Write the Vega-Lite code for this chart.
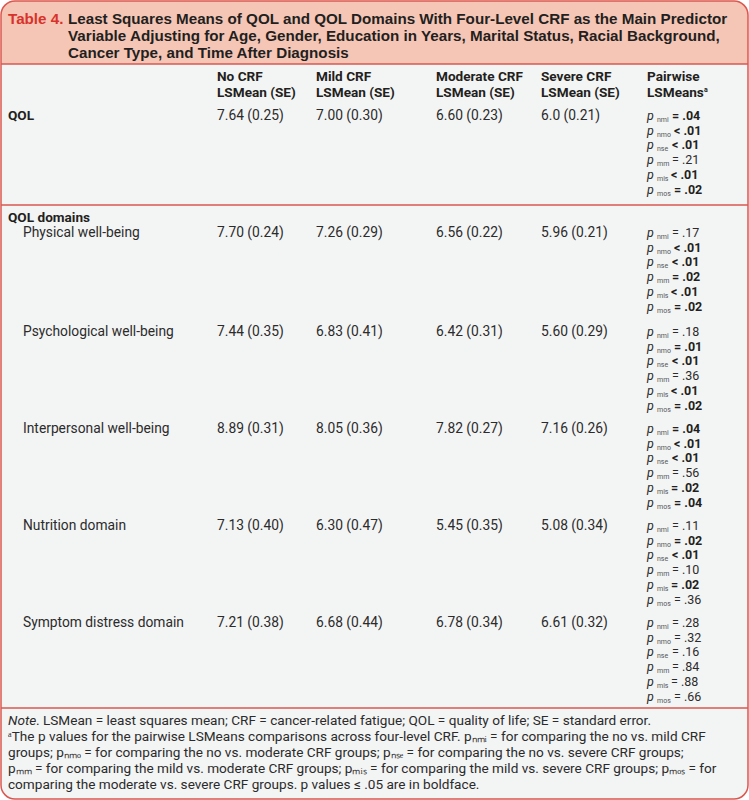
{
  "$schema": "https://vega.github.io/schema/vega-lite/v6.json",
  "width": 749,
  "height": 800,
  "padding": 0,
  "autosize": {"type": "none"},
  "background": "#ffffff",
  "config": {"view": {"stroke": null}},
  "datasets": {
    "frame": [
      {"part": "table", "col": 0, "col2": 9, "slot": -1, "slot2": 47}
    ],
    "band": [
      {"part": "title band", "col": 0, "col2": 9, "slot": -1, "slot2": 2.5}
    ],
    "sections": [
      {"boundary": "header", "col": 0, "col2": 9, "slot": 2.5},
      {"boundary": "QOL", "col": 0, "col2": 9, "slot": 10.5},
      {"boundary": "note", "col": 0, "col2": 9, "slot": 41.5}
    ],
    "titles": [
      {"slot": 0, "col": 3, "text": "Least Squares Means of QOL and QOL Domains With Four-Level CRF as the Main Predictor"},
      {"slot": 1, "col": 3, "text": "Variable Adjusting for Age, Gender, Education in Years, Marital Status, Racial Background,"},
      {"slot": 2, "col": 3, "text": "Cancer Type, and Time After Diagnosis"}
    ],
    "colheads": [
      {"slot": 3, "col": 4, "text": "No CRF"},
      {"slot": 4, "col": 4, "text": "LSMean (SE)"},
      {"slot": 3, "col": 5, "text": "Mild CRF"},
      {"slot": 4, "col": 5, "text": "LSMean (SE)"},
      {"slot": 3, "col": 6, "text": "Moderate CRF"},
      {"slot": 4, "col": 6, "text": "LSMean (SE)"},
      {"slot": 3, "col": 7, "text": "Severe CRF"},
      {"slot": 4, "col": 7, "text": "LSMean (SE)"},
      {"slot": 3, "col": 8, "text": "Pairwise"},
      {"slot": 4, "col": 8, "text": "LSMeans"}
    ],
    "rowheads": [
      {"slot": 5, "col": 1, "text": "QOL"},
      {"slot": 11, "col": 1, "text": "QOL domains"}
    ],
    "rowlabels": [
      {"slot": 12, "col": 2, "text": "Physical well-being"},
      {"slot": 18, "col": 2, "text": "Psychological well-being"},
      {"slot": 24, "col": 2, "text": "Interpersonal well-being"},
      {"slot": 30, "col": 2, "text": "Nutrition domain"},
      {"slot": 36, "col": 2, "text": "Symptom distress domain"}
    ],
    "means": [
      {"item": "QOL", "group": "No CRF", "slot": 5, "col": 4, "lsmean": 7.64, "se": 0.25, "label": "7.64 (0.25)"},
      {"item": "QOL", "group": "Mild CRF", "slot": 5, "col": 5, "lsmean": 7.0, "se": 0.3, "label": "7.00 (0.30)"},
      {"item": "QOL", "group": "Moderate CRF", "slot": 5, "col": 6, "lsmean": 6.6, "se": 0.23, "label": "6.60 (0.23)"},
      {"item": "QOL", "group": "Severe CRF", "slot": 5, "col": 7, "lsmean": 6.0, "se": 0.21, "label": "6.0 (0.21)"},
      {"item": "Physical well-being", "group": "No CRF", "slot": 12, "col": 4, "lsmean": 7.7, "se": 0.24, "label": "7.70 (0.24)"},
      {"item": "Physical well-being", "group": "Mild CRF", "slot": 12, "col": 5, "lsmean": 7.26, "se": 0.29, "label": "7.26 (0.29)"},
      {"item": "Physical well-being", "group": "Moderate CRF", "slot": 12, "col": 6, "lsmean": 6.56, "se": 0.22, "label": "6.56 (0.22)"},
      {"item": "Physical well-being", "group": "Severe CRF", "slot": 12, "col": 7, "lsmean": 5.96, "se": 0.21, "label": "5.96 (0.21)"},
      {"item": "Psychological well-being", "group": "No CRF", "slot": 18, "col": 4, "lsmean": 7.44, "se": 0.35, "label": "7.44 (0.35)"},
      {"item": "Psychological well-being", "group": "Mild CRF", "slot": 18, "col": 5, "lsmean": 6.83, "se": 0.41, "label": "6.83 (0.41)"},
      {"item": "Psychological well-being", "group": "Moderate CRF", "slot": 18, "col": 6, "lsmean": 6.42, "se": 0.31, "label": "6.42 (0.31)"},
      {"item": "Psychological well-being", "group": "Severe CRF", "slot": 18, "col": 7, "lsmean": 5.6, "se": 0.29, "label": "5.60 (0.29)"},
      {"item": "Interpersonal well-being", "group": "No CRF", "slot": 24, "col": 4, "lsmean": 8.89, "se": 0.31, "label": "8.89 (0.31)"},
      {"item": "Interpersonal well-being", "group": "Mild CRF", "slot": 24, "col": 5, "lsmean": 8.05, "se": 0.36, "label": "8.05 (0.36)"},
      {"item": "Interpersonal well-being", "group": "Moderate CRF", "slot": 24, "col": 6, "lsmean": 7.82, "se": 0.27, "label": "7.82 (0.27)"},
      {"item": "Interpersonal well-being", "group": "Severe CRF", "slot": 24, "col": 7, "lsmean": 7.16, "se": 0.26, "label": "7.16 (0.26)"},
      {"item": "Nutrition domain", "group": "No CRF", "slot": 30, "col": 4, "lsmean": 7.13, "se": 0.4, "label": "7.13 (0.40)"},
      {"item": "Nutrition domain", "group": "Mild CRF", "slot": 30, "col": 5, "lsmean": 6.3, "se": 0.47, "label": "6.30 (0.47)"},
      {"item": "Nutrition domain", "group": "Moderate CRF", "slot": 30, "col": 6, "lsmean": 5.45, "se": 0.35, "label": "5.45 (0.35)"},
      {"item": "Nutrition domain", "group": "Severe CRF", "slot": 30, "col": 7, "lsmean": 5.08, "se": 0.34, "label": "5.08 (0.34)"},
      {"item": "Symptom distress domain", "group": "No CRF", "slot": 36, "col": 4, "lsmean": 7.21, "se": 0.38, "label": "7.21 (0.38)"},
      {"item": "Symptom distress domain", "group": "Mild CRF", "slot": 36, "col": 5, "lsmean": 6.68, "se": 0.44, "label": "6.68 (0.44)"},
      {"item": "Symptom distress domain", "group": "Moderate CRF", "slot": 36, "col": 6, "lsmean": 6.78, "se": 0.34, "label": "6.78 (0.34)"},
      {"item": "Symptom distress domain", "group": "Severe CRF", "slot": 36, "col": 7, "lsmean": 6.61, "se": 0.32, "label": "6.61 (0.32)"}
    ],
    "pvals": [
      {"item": "QOL", "slot": 5, "col": 8, "cmp": "nmi", "val": "= .04", "sig": true},
      {"item": "QOL", "slot": 6, "col": 8, "cmp": "nmo", "val": "< .01", "sig": true},
      {"item": "QOL", "slot": 7, "col": 8, "cmp": "nse", "val": "< .01", "sig": true},
      {"item": "QOL", "slot": 8, "col": 8, "cmp": "mm", "val": "= .21", "sig": false},
      {"item": "QOL", "slot": 9, "col": 8, "cmp": "mis", "val": "< .01", "sig": true},
      {"item": "QOL", "slot": 10, "col": 8, "cmp": "mos", "val": "= .02", "sig": true},
      {"item": "Physical well-being", "slot": 12, "col": 8, "cmp": "nmi", "val": "= .17", "sig": false},
      {"item": "Physical well-being", "slot": 13, "col": 8, "cmp": "nmo", "val": "< .01", "sig": true},
      {"item": "Physical well-being", "slot": 14, "col": 8, "cmp": "nse", "val": "< .01", "sig": true},
      {"item": "Physical well-being", "slot": 15, "col": 8, "cmp": "mm", "val": "= .02", "sig": true},
      {"item": "Physical well-being", "slot": 16, "col": 8, "cmp": "mis", "val": "< .01", "sig": true},
      {"item": "Physical well-being", "slot": 17, "col": 8, "cmp": "mos", "val": "= .02", "sig": true},
      {"item": "Psychological well-being", "slot": 18, "col": 8, "cmp": "nmi", "val": "= .18", "sig": false},
      {"item": "Psychological well-being", "slot": 19, "col": 8, "cmp": "nmo", "val": "= .01", "sig": true},
      {"item": "Psychological well-being", "slot": 20, "col": 8, "cmp": "nse", "val": "< .01", "sig": true},
      {"item": "Psychological well-being", "slot": 21, "col": 8, "cmp": "mm", "val": "= .36", "sig": false},
      {"item": "Psychological well-being", "slot": 22, "col": 8, "cmp": "mis", "val": "< .01", "sig": true},
      {"item": "Psychological well-being", "slot": 23, "col": 8, "cmp": "mos", "val": "= .02", "sig": true},
      {"item": "Interpersonal well-being", "slot": 24, "col": 8, "cmp": "nmi", "val": "= .04", "sig": true},
      {"item": "Interpersonal well-being", "slot": 25, "col": 8, "cmp": "nmo", "val": "< .01", "sig": true},
      {"item": "Interpersonal well-being", "slot": 26, "col": 8, "cmp": "nse", "val": "< .01", "sig": true},
      {"item": "Interpersonal well-being", "slot": 27, "col": 8, "cmp": "mm", "val": "= .56", "sig": false},
      {"item": "Interpersonal well-being", "slot": 28, "col": 8, "cmp": "mis", "val": "= .02", "sig": true},
      {"item": "Interpersonal well-being", "slot": 29, "col": 8, "cmp": "mos", "val": "= .04", "sig": true},
      {"item": "Nutrition domain", "slot": 30, "col": 8, "cmp": "nmi", "val": "= .11", "sig": false},
      {"item": "Nutrition domain", "slot": 31, "col": 8, "cmp": "nmo", "val": "= .02", "sig": true},
      {"item": "Nutrition domain", "slot": 32, "col": 8, "cmp": "nse", "val": "< .01", "sig": true},
      {"item": "Nutrition domain", "slot": 33, "col": 8, "cmp": "mm", "val": "= .10", "sig": false},
      {"item": "Nutrition domain", "slot": 34, "col": 8, "cmp": "mis", "val": "= .02", "sig": true},
      {"item": "Nutrition domain", "slot": 35, "col": 8, "cmp": "mos", "val": "= .36", "sig": false},
      {"item": "Symptom distress domain", "slot": 36, "col": 8, "cmp": "nmi", "val": "= .28", "sig": false},
      {"item": "Symptom distress domain", "slot": 37, "col": 8, "cmp": "nmo", "val": "= .32", "sig": false},
      {"item": "Symptom distress domain", "slot": 38, "col": 8, "cmp": "nse", "val": "= .16", "sig": false},
      {"item": "Symptom distress domain", "slot": 39, "col": 8, "cmp": "mm", "val": "= .84", "sig": false},
      {"item": "Symptom distress domain", "slot": 40, "col": 8, "cmp": "mis", "val": "= .88", "sig": false},
      {"item": "Symptom distress domain", "slot": 41, "col": 8, "cmp": "mos", "val": "= .66", "sig": false}
    ],
    "notes": [
      {"slot": 42, "col": 1, "text": ". LSMean = least squares mean; CRF = cancer-related fatigue; QOL = quality of life; SE = standard error."},
      {"slot": 43, "col": 1, "text": "ᵃThe p values for the pairwise LSMeans comparisons across four-level CRF. pₙₘᵢ = for comparing the no vs. mild CRF"},
      {"slot": 44, "col": 1, "text": "groups; pₙₘₒ = for comparing the no vs. moderate CRF groups; pₙₛₑ = for comparing the no vs. severe CRF groups;"},
      {"slot": 45, "col": 1, "text": "pₘₘ = for comparing the mild vs. moderate CRF groups; pₘᵢₛ = for comparing the mild vs. severe CRF groups; pₘₒₛ = for"},
      {"slot": 46, "col": 1, "text": "comparing the moderate vs. severe CRF groups. p values ≤ .05 are in boldface."}
    ]
  },
  "encoding": {
    "x": {"field": "col", "type": "quantitative", "axis": null,
      "scale": {"type": "linear", "domain": [0, 1, 2, 3, 4, 5, 6, 7, 8, 9], "range": [1, 8, 23, 68, 217, 316, 436, 541, 647, 748], "nice": false, "zero": false}},
    "y": {"field": "slot", "type": "quantitative", "axis": null,
      "scale": {"type": "linear", "domain": [-1, 0, 2, 2.5, 3, 4, 5, 10, 10.5, 11, 12, 17, 18, 23, 24, 29, 30, 35, 36, 41, 41.5, 42, 46, 47], "range": [1, 19, 53, 64, 77, 93, 116, 189.5, 205, 218, 233, 306.5, 332, 405.5, 429, 502.5, 526, 599.5, 623, 696.5, 708, 721, 785, 799], "nice": false, "zero": false}}
  },
  "layer": [
    {
      "data": {"name": "frame"},
      "mark": {"type": "rect", "fill": "#F3F4F4", "cornerRadius": 14},
      "encoding": {"x2": {"field": "col2"}, "y2": {"field": "slot2"}}
    },
    {
      "data": {"name": "band"},
      "mark": {"type": "rect", "fill": "#F5C6B6", "cornerRadiusTopLeft": 14, "cornerRadiusTopRight": 14},
      "encoding": {"x2": {"field": "col2"}, "y2": {"field": "slot2"}}
    },
    {
      "data": {"name": "frame"},
      "mark": {"type": "rect", "filled": false, "stroke": "#DA5850", "strokeWidth": 1.5, "cornerRadius": 14},
      "encoding": {"x2": {"field": "col2"}, "y2": {"field": "slot2"}}
    },
    {
      "data": {"name": "sections"},
      "mark": {"type": "rule", "stroke": "#DA5850", "strokeWidth": 1.5},
      "encoding": {"x2": {"field": "col2"}}
    },
    {
      "data": {"values": [{"slot": 0, "col": 1, "text": "Table 4."}]},
      "mark": {"type": "text", "font": "Liberation Sans", "fontSize": 15.2, "fontWeight": "bold", "fill": "#D8322A", "align": "left", "baseline": "middle"},
      "encoding": {"text": {"field": "text"}}
    },
    {
      "data": {"name": "titles"},
      "mark": {"type": "text", "font": "Liberation Sans", "fontSize": 15.2, "fontWeight": "bold", "fill": "#231F20", "align": "left", "baseline": "middle"},
      "encoding": {"text": {"field": "text"}}
    },
    {
      "data": {"name": "colheads"},
      "mark": {"type": "text", "font": "Roboto", "fontSize": 13.6, "fontWeight": "bold", "fill": "#231F20", "align": "left", "baseline": "middle"},
      "encoding": {"text": {"field": "text"}}
    },
    {
      "data": {"values": [{"slot": 4, "col": 8, "text": "a"}]},
      "mark": {"type": "text", "font": "Roboto", "fontSize": 7, "fontWeight": "bold", "fill": "#231F20", "align": "left", "baseline": "middle", "dx": 57, "dy": -3},
      "encoding": {"text": {"field": "text"}}
    },
    {
      "data": {"name": "rowheads"},
      "mark": {"type": "text", "font": "Roboto", "fontSize": 13.6, "fontWeight": "bold", "fill": "#231F20", "align": "left", "baseline": "middle"},
      "encoding": {"text": {"field": "text"}}
    },
    {
      "data": {"name": "rowlabels"},
      "mark": {"type": "text", "font": "Roboto", "fontSize": 13.8, "fill": "#2B2B2B", "align": "left", "baseline": "middle"},
      "encoding": {"text": {"field": "text"}}
    },
    {
      "data": {"name": "means"},
      "mark": {"type": "text", "font": "Roboto", "fontSize": 13.8, "fill": "#2B2B2B", "align": "left", "baseline": "middle"},
      "encoding": {"text": {"field": "label"}}
    },
    {
      "data": {"name": "pvals"},
      "mark": {"type": "text", "font": "Roboto", "fontSize": 12.5, "fontStyle": "italic", "fill": "#2B2B2B", "align": "left", "baseline": "middle"},
      "encoding": {"text": {"value": "p"}}
    },
    {
      "data": {"name": "pvals"},
      "mark": {"type": "text", "font": "Roboto", "fontSize": 7, "fill": "#555555", "align": "left", "baseline": "middle", "dx": 10, "dy": 4},
      "encoding": {"text": {"field": "cmp"}}
    },
    {"data": {"name": "pvals"}, "transform": [{"filter": "datum.cmp === 'nmi' && datum.sig"}],
     "mark": {"type": "text", "font": "Roboto", "fontSize": 12.5, "fontWeight": "bold", "fill": "#231F20", "align": "left", "baseline": "middle", "dx": 25},
     "encoding": {"text": {"field": "val"}}},
    {"data": {"name": "pvals"}, "transform": [{"filter": "datum.cmp === 'nmi' && !datum.sig"}],
     "mark": {"type": "text", "font": "Roboto", "fontSize": 12.5, "fill": "#2B2B2B", "align": "left", "baseline": "middle", "dx": 25},
     "encoding": {"text": {"field": "val"}}},
    {"data": {"name": "pvals"}, "transform": [{"filter": "datum.cmp === 'nmo' && datum.sig"}],
     "mark": {"type": "text", "font": "Roboto", "fontSize": 12.5, "fontWeight": "bold", "fill": "#231F20", "align": "left", "baseline": "middle", "dx": 27},
     "encoding": {"text": {"field": "val"}}},
    {"data": {"name": "pvals"}, "transform": [{"filter": "datum.cmp === 'nmo' && !datum.sig"}],
     "mark": {"type": "text", "font": "Roboto", "fontSize": 12.5, "fill": "#2B2B2B", "align": "left", "baseline": "middle", "dx": 27},
     "encoding": {"text": {"field": "val"}}},
    {"data": {"name": "pvals"}, "transform": [{"filter": "datum.cmp === 'nse' && datum.sig"}],
     "mark": {"type": "text", "font": "Roboto", "fontSize": 12.5, "fontWeight": "bold", "fill": "#231F20", "align": "left", "baseline": "middle", "dx": 25},
     "encoding": {"text": {"field": "val"}}},
    {"data": {"name": "pvals"}, "transform": [{"filter": "datum.cmp === 'nse' && !datum.sig"}],
     "mark": {"type": "text", "font": "Roboto", "fontSize": 12.5, "fill": "#2B2B2B", "align": "left", "baseline": "middle", "dx": 25},
     "encoding": {"text": {"field": "val"}}},
    {"data": {"name": "pvals"}, "transform": [{"filter": "datum.cmp === 'mm' && datum.sig"}],
     "mark": {"type": "text", "font": "Roboto", "fontSize": 12.5, "fontWeight": "bold", "fill": "#231F20", "align": "left", "baseline": "middle", "dx": 25},
     "encoding": {"text": {"field": "val"}}},
    {"data": {"name": "pvals"}, "transform": [{"filter": "datum.cmp === 'mm' && !datum.sig"}],
     "mark": {"type": "text", "font": "Roboto", "fontSize": 12.5, "fill": "#2B2B2B", "align": "left", "baseline": "middle", "dx": 25},
     "encoding": {"text": {"field": "val"}}},
    {"data": {"name": "pvals"}, "transform": [{"filter": "datum.cmp === 'mis' && datum.sig"}],
     "mark": {"type": "text", "font": "Roboto", "fontSize": 12.5, "fontWeight": "bold", "fill": "#231F20", "align": "left", "baseline": "middle", "dx": 24},
     "encoding": {"text": {"field": "val"}}},
    {"data": {"name": "pvals"}, "transform": [{"filter": "datum.cmp === 'mis' && !datum.sig"}],
     "mark": {"type": "text", "font": "Roboto", "fontSize": 12.5, "fill": "#2B2B2B", "align": "left", "baseline": "middle", "dx": 24},
     "encoding": {"text": {"field": "val"}}},
    {"data": {"name": "pvals"}, "transform": [{"filter": "datum.cmp === 'mos' && datum.sig"}],
     "mark": {"type": "text", "font": "Roboto", "fontSize": 12.5, "fontWeight": "bold", "fill": "#231F20", "align": "left", "baseline": "middle", "dx": 27},
     "encoding": {"text": {"field": "val"}}},
    {"data": {"name": "pvals"}, "transform": [{"filter": "datum.cmp === 'mos' && !datum.sig"}],
     "mark": {"type": "text", "font": "Roboto", "fontSize": 12.5, "fill": "#2B2B2B", "align": "left", "baseline": "middle", "dx": 27},
     "encoding": {"text": {"field": "val"}}},
    {
      "data": {"values": [{"slot": 42, "col": 1, "text": "Note"}]},
      "mark": {"type": "text", "font": "Roboto", "fontSize": 13.6, "fontStyle": "italic", "fill": "#2B2B2B", "align": "left", "baseline": "middle"},
      "encoding": {"text": {"field": "text"}}
    },
    {
      "data": {"name": "notes"}, "transform": [{"filter": "datum.slot === 42"}],
      "mark": {"type": "text", "font": "Roboto", "fontSize": 13.6, "fill": "#2B2B2B", "align": "left", "baseline": "middle", "dx": 28},
      "encoding": {"text": {"field": "text"}}
    },
    {
      "data": {"name": "notes"}, "transform": [{"filter": "datum.slot > 42"}],
      "mark": {"type": "text", "font": "Roboto", "fontSize": 13.6, "fill": "#2B2B2B", "align": "left", "baseline": "middle"},
      "encoding": {"text": {"field": "text"}}
    }
  ]
}
